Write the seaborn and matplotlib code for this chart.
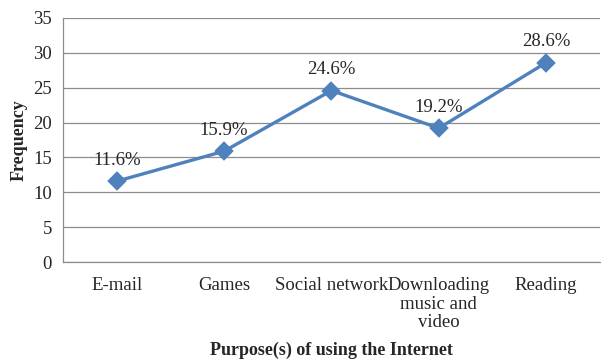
import matplotlib
matplotlib.use("Agg")
import matplotlib.pyplot as plt
import seaborn as sns
import numpy as np
import pandas as pd

# Purposes of internet use and their frequency (%)
purposes = ["E-mail", "Games", "Social network", "Downloading\nmusic and\nvideo", "Reading"]
frequency = [11.6, 15.9, 24.6, 19.2, 28.6]
value_labels = ["11.6%", "15.9%", "24.6%", "19.2%", "28.6%"]
y_ticks = [0, 5, 10, 15, 20, 25, 30, 35]

sns.set_style("white")
plt.rcParams["font.family"] = ["Liberation Serif", "DejaVu Serif"]

df = pd.DataFrame({"purpose": purposes, "frequency": frequency})

fig = plt.figure(figsize=(6.01, 3.60), dpi=100)
ax = fig.add_axes([0.105, 0.272, 0.893, 0.678])

line_color = "#4F81BD"
sns.pointplot(data=df, x="purpose", y="frequency", color=line_color,
              markers="D", linestyles="-", ax=ax, errorbar=None,
              markersize=8, linewidth=2.4)

ax.set_xlim(-0.5, len(purposes) - 0.5)
ax.set_ylim(0, 35)
ax.set_yticks(y_ticks)
ax.yaxis.grid(True, color="#8c8c8c", linewidth=0.9)
ax.set_axisbelow(True)

for s in ["top", "right"]:
    ax.spines[s].set_visible(False)
for s in ["left", "bottom"]:
    ax.spines[s].set_color("#8c8c8c")
    ax.spines[s].set_linewidth(0.9)

# category boundary ticks on the x axis
ax.set_xticks(np.arange(-0.5, len(purposes), 1.0), minor=True)
ax.tick_params(axis="x", which="minor", length=5, color="#8c8c8c", width=0.9)
ax.tick_params(axis="x", which="major", length=0, labelsize=13.5, pad=11)
ax.tick_params(axis="y", length=4, color="#8c8c8c", width=0.9, labelsize=13.5, pad=4)
for t in ax.get_xticklabels():
    t.set_linespacing(1.1)

for i, (v, lab) in enumerate(zip(frequency, value_labels)):
    ax.annotate(lab, (i, v), xytext=(0, 9), textcoords="offset points",
                ha="center", va="bottom", fontsize=13.5)

ax.set_xlabel("Purpose(s) of using the Internet", fontsize=13,
              fontweight="bold", labelpad=8)
ax.set_ylabel("Frequency", fontsize=13, fontweight="bold", labelpad=4)

fig.savefig("out.png", dpi=100)
